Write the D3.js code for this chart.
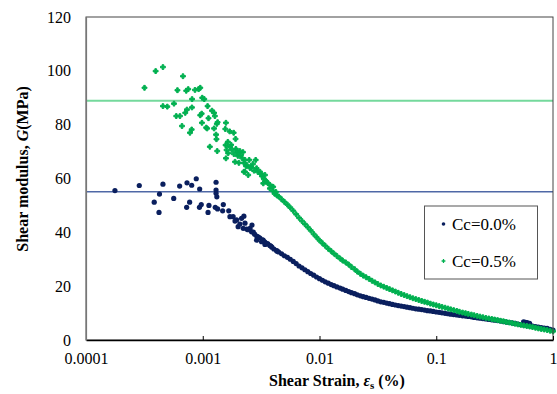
<!DOCTYPE html>
<html><head><meta charset="utf-8">
<script src="https://cdn.jsdelivr.net/npm/d3@7"></script>
<style>body{margin:0;background:#fff}svg{display:block}svg text{font-family:"Liberation Serif","Times New Roman",serif !important}</style>
</head><body>
<svg id="chart" width="557" height="394"></svg>
<script>
// ---------- data ----------
const xTicks = [0.0001, 0.001, 0.01, 0.1, 1];
const xTickLabels = ["0.0001", "0.001", "0.01", "0.1", "1"];
const yTicks = [0, 20, 40, 60, 80, 100, 120];
const seriesNames = ["Cc=0.0%", "Cc=0.5%"];
const refLevels = [55.1, 88.9]; // Gmax reference lines for Cc=0.0% and Cc=0.5%

const cc0ScatterStrain = [1.77e-4,2.86e-4,3.84e-4,4.22e-4,4.26e-4,4.56e-4,5.64e-4,6.34e-4,7.28e-4,7.33e-4,7.72e-4,8.04e-4,8.80e-4,9.37e-4,9.41e-4,9.71e-4,1.11e-3,1.13e-3,1.28e-3,1.30e-3,1.30e-3,1.30e-3,1.32e-3,1.34e-3,1.48e-3,1.50e-3,1.67e-3,1.71e-3,
  1.82e-3,1.95e-3,2.01e-3,2.15e-3,2.22e-3,2.30e-3,1.89e-3,2.08e-3,2.25e-3,2.38e-3,2.54e-3,2.64e-3,2.62e-3,2.71e-3,2.89e-3,2.89e-3,3.00e-3,3.09e-3,3.19e-3,3.30e-3,3.41e-3,3.41e-3,3.61e-3,3.76e-3,3.91e-3,4.07e-3,4.29e-3,
  2.44e-3,2.78e-3,2.97e-3,3.26e-3,3.55e-3,3.83e-3,4.35e-3,
  0.56,0.58,0.60,0.63];
const cc0ScatterG = [55.5,57.4,51.2,47.4,54.2,57.9,52.6,57.2,49.3,58.4,51.2,57.5,59.9,49.3,56.1,50.3,47.4,50.0,49.3,58.6,55.7,54.5,53.2,48.7,48.0,50.3,48.0,45.8,
  45.8,44.6,42.1,45.2,41.5,43.4,44.2,43.1,46.0,41.2,41.5,42.7,40.2,40.1,38.6,37.1,38.1,37.9,36.5,37.0,36.4,35.5,35.7,35.1,34.5,33.8,33.2,
  41.0,39.3,38.3,37.2,35.8,34.9,33.0,
  6.7,6.6,6.5,6.2];

const bandStrain = [0.00447,0.00473,0.00501,0.00531,0.00562,0.00596,0.00631,0.00668,0.00708,0.00750,
  0.00794,0.00841,0.00891,0.00944,0.0100,0.0106,0.0112,0.0119,0.0126,0.0133,
  0.0141,0.0150,0.0158,0.0168,0.0178,0.0188,0.0200,0.0211,0.0224,0.0237,
  0.0251,0.0266,0.0282,0.0299,0.0316,0.0335,0.0355,0.0376,0.0398,0.0422,
  0.0447,0.0473,0.0501,0.0531,0.0562,0.0596,0.0631,0.0668,0.0708,0.0750,
  0.0794,0.0841,0.0891,0.0944,0.100,0.106,0.112,0.119,0.126,0.133,
  0.141,0.150,0.158,0.168,0.178,0.188,0.200,0.211,0.224,0.237,
  0.251,0.266,0.282,0.299,0.316,0.335,0.355,0.376,0.398,0.422,
  0.447,0.473,0.501,0.531,0.562,0.596,0.631,0.668,0.708,0.750,
  0.794,0.841,0.891,0.944,1.00];
const cc0BandG = [32.7,32.0,31.3,30.7,30.0,29.2,28.4,27.5,26.8,26.1,
  25.4,24.7,24.1,23.4,22.8,22.2,21.6,21.1,20.6,20.2,
  19.7,19.3,18.9,18.4,18.0,17.6,17.2,16.8,16.4,16.1,
  15.8,15.5,15.2,14.9,14.5,14.2,14.0,13.7,13.5,13.2,
  13.0,12.8,12.6,12.4,12.2,12.0,11.8,11.6,11.45,11.3,
  11.1,10.9,10.8,10.6,10.4,10.3,10.1,9.9,9.75,9.6,
  9.45,9.3,9.15,9.0,8.9,8.75,8.6,8.4,8.25,8.1,
  7.95,7.8,7.65,7.5,7.35,7.2,7.05,6.85,6.65,6.5,
  6.35,6.15,5.95,5.75,5.6,5.45,5.3,5.15,5.0,4.8,
  4.65,4.45,4.3,4.0,3.7];
const cc05BandG = [53.3,52.3,51.3,50.3,49.2,48.0,46.7,45.4,44.2,43.05,
  41.9,40.7,39.4,38.2,37.0,35.95,35.0,33.9,33.0,32.1,
  31.2,30.3,29.5,28.8,28.0,27.1,26.3,25.4,24.6,23.9,
  23.3,22.7,22.0,21.4,20.8,20.25,19.8,19.35,18.9,18.45,
  18.0,17.55,17.1,16.7,16.3,15.9,15.5,15.2,14.85,14.5,
  14.2,13.9,13.5,13.2,12.9,12.6,12.3,12.0,11.7,11.4,
  11.1,10.8,10.5,10.2,9.95,9.7,9.45,9.2,8.95,8.7,
  8.45,8.2,8.0,7.8,7.6,7.4,7.15,6.95,6.7,6.5,
  6.25,6.05,5.8,5.6,5.4,5.2,5.0,4.8,4.55,4.3,
  4.1,3.9,3.7,3.45,3.2];

const cc05ScatterStrain = [3.17e-4,3.95e-4,4.56e-4,6.77e-4,4.56e-4,4.97e-4,5.67e-4,6.07e-4,5.93e-4,6.38e-4,6.64e-4,7.08e-4,7.32e-4,7.22e-4,7.51e-4,7.77e-4,8.04e-4,8.08e-4,8.10e-4,8.58e-4,9.22e-4,9.52e-4,9.90e-4,1.03e-3,9.52e-4,9.79e-4,9.84e-4,1.07e-3,1.10e-3,1.12e-3,1.09e-3,1.20e-3,1.25e-3,1.27e-3,1.25e-3,1.32e-3,1.34e-3,1.30e-3,1.31e-3,1.15e-3,1.33e-3,
  1.58e-3,1.56e-3,1.70e-3,1.84e-3,1.91e-3,1.64e-3,1.57e-3,1.71e-3,1.60e-3,1.58e-3,1.65e-3,1.78e-3,1.85e-3,1.92e-3,2.00e-3,2.08e-3,2.17e-3,2.21e-3,2.30e-3,2.25e-3,1.89e-3,2.04e-3,2.25e-3,2.50e-3,2.39e-3,2.54e-3,2.69e-3,2.84e-3,2.89e-3,2.97e-3,3.09e-3,3.21e-3,3.41e-3,3.34e-3,3.52e-3,3.61e-3,3.76e-3,3.76e-3,4.01e-3,4.01e-3,4.23e-3,4.32e-3,2.30e-3,2.45e-3,3.30e-3,
  1.75e-3,1.98e-3,2.12e-3,2.35e-3,2.60e-3,2.75e-3,3.15e-3,3.45e-3,3.90e-3,4.12e-3];
const cc05ScatterG = [93.7,99.9,101.4,98.0,86.9,86.7,87.8,92.8,83.2,83.2,79.5,84.4,85.6,92.6,93.2,77.0,78.2,86.4,89.5,92.9,93.2,93.7,90.0,89.5,83.5,84.1,80.7,78.9,86.9,82.4,78.6,85.2,84.4,83.2,78.6,80.3,80.9,76.3,74.6,71.8,70.2,
  80.7,78.4,77.5,77.0,74.7,73.6,72.4,71.8,70.6,67.5,69.4,70.6,69.1,71.0,68.4,70.2,67.6,69.8,66.9,65.8,66.2,65.8,62.5,66.9,65.0,63.9,65.4,66.9,63.8,62.4,62.5,60.9,61.3,59.8,58.8,58.3,57.6,56.3,56.9,55.3,55.0,53.7,62.5,61.3,58.2,
  72.5,69.8,68.6,64.6,64.2,62.9,61.8,59.2,57.0,54.4];

// ---------- chart ----------
const FONT = '"Liberation Serif","Times New Roman",serif';
const colors = ["#0a1f5e", "#00b050"];
const refColors = ["#4f68a6", "#74d99c"];
const svg = d3.select("#chart");
const L = 86, R = 553, T = 17, B = 340;
const x = d3.scaleLog().domain([0.0001, 1]).range([L, R]);
const y = d3.scaleLinear().domain([0, 120]).range([B, T]);

svg.append("rect").attr("width", 557).attr("height", 394).attr("fill", "#fff");

refLevels.forEach((g, i) => {
  svg.append("line").attr("x1", L).attr("x2", R).attr("y1", y(g)).attr("y2", y(g))
    .attr("stroke", refColors[i]).attr("stroke-width", i === 0 ? 1.6 : 2);
});

const pts0 = cc0ScatterStrain.map((s, i) => [s, cc0ScatterG[i]])
  .concat(bandStrain.map((s, i) => [s, cc0BandG[i]]));
const pts1 = cc05ScatterStrain.map((s, i) => [s, cc05ScatterG[i]])
  .concat(bandStrain.map((s, i) => [s, cc05BandG[i]]));

svg.append("g").selectAll("circle").data(pts0).join("circle")
  .attr("cx", d => x(d[0])).attr("cy", d => y(d[1])).attr("r", 2.6).attr("fill", colors[0]);

const cross = d3.symbol().type(d3.symbolCross).size(13);
svg.append("g").selectAll("path").data(pts1).join("path")
  .attr("d", cross).attr("transform", d => `translate(${x(d[0])},${y(d[1])})`)
  .attr("fill", colors[1]).attr("stroke", colors[1]).attr("stroke-width", 1.0);

svg.append("rect").attr("x", L).attr("y", T).attr("width", R - L).attr("height", B - T)
  .attr("fill", "none").attr("stroke", "#444").attr("stroke-width", 1);

const xAxis = d3.axisBottom(x).tickValues(xTicks).tickFormat((d, i) => xTickLabels[i])
  .tickSizeInner(-4).tickSizeOuter(0).tickPadding(13);
const gx = svg.append("g").attr("transform", `translate(0,${B})`).call(xAxis).attr("font-family", FONT);
gx.select(".domain").attr("stroke", "#000").attr("stroke-width", 1.4);
gx.selectAll(".tick line").attr("stroke", "#000");
gx.selectAll(".tick text").attr("font-size", 16).attr("fill", "#000").style("font-family", FONT);

const yAxis = d3.axisLeft(y).tickValues(yTicks).tickSize(0).tickPadding(15);
const gy = svg.append("g").attr("transform", `translate(${L},0)`).call(yAxis).attr("font-family", FONT);
gy.select(".domain").attr("stroke", "#777").attr("stroke-width", 1.2);
gy.selectAll(".tick text").attr("font-size", 16).attr("fill", "#000").style("font-family", FONT);

const xt = svg.append("text").attr("x", 337).attr("y", 386).attr("text-anchor", "middle")
  .attr("font-size", 16).attr("font-weight", "bold").attr("fill", "#000").style("font-family", FONT);
xt.append("tspan").text("Shear Strain, ");
xt.append("tspan").attr("font-style", "italic").text("ε");
xt.append("tspan").attr("font-size", 11).attr("dy", 3).text("s");
xt.append("tspan").attr("dy", -3).text(" (%)");

const yt = svg.append("text").attr("transform", "translate(28,169) rotate(-90)").attr("text-anchor", "middle")
  .attr("font-size", 16).attr("font-weight", "bold").attr("fill", "#000").style("font-family", FONT);
yt.append("tspan").text("Shear modulus, ");
yt.append("tspan").attr("font-style", "italic").text("G");
yt.append("tspan").text("(MPa)");

const lg = svg.append("g");
lg.append("rect").attr("x", 424.5).attr("y", 206).attr("width", 113).attr("height", 73)
  .attr("fill", "#fff").attr("stroke", "#555").attr("stroke-width", 1);
const legY = [224, 261];
seriesNames.forEach((name, i) => {
  if (i === 0) lg.append("circle").attr("cx", 443.5).attr("cy", legY[i]).attr("r", 1.8).attr("fill", colors[0]);
  else lg.append("path").attr("d", d3.symbol().type(d3.symbolCross).size(8)())
    .attr("transform", `translate(443.5,${legY[i]})`).attr("fill", colors[1]);
  lg.append("text").attr("x", 452).attr("y", legY[i] + 5.5).attr("font-size", 17).attr("fill", "#000")
    .style("font-family", FONT).text(name);
});
</script>
</body></html>
